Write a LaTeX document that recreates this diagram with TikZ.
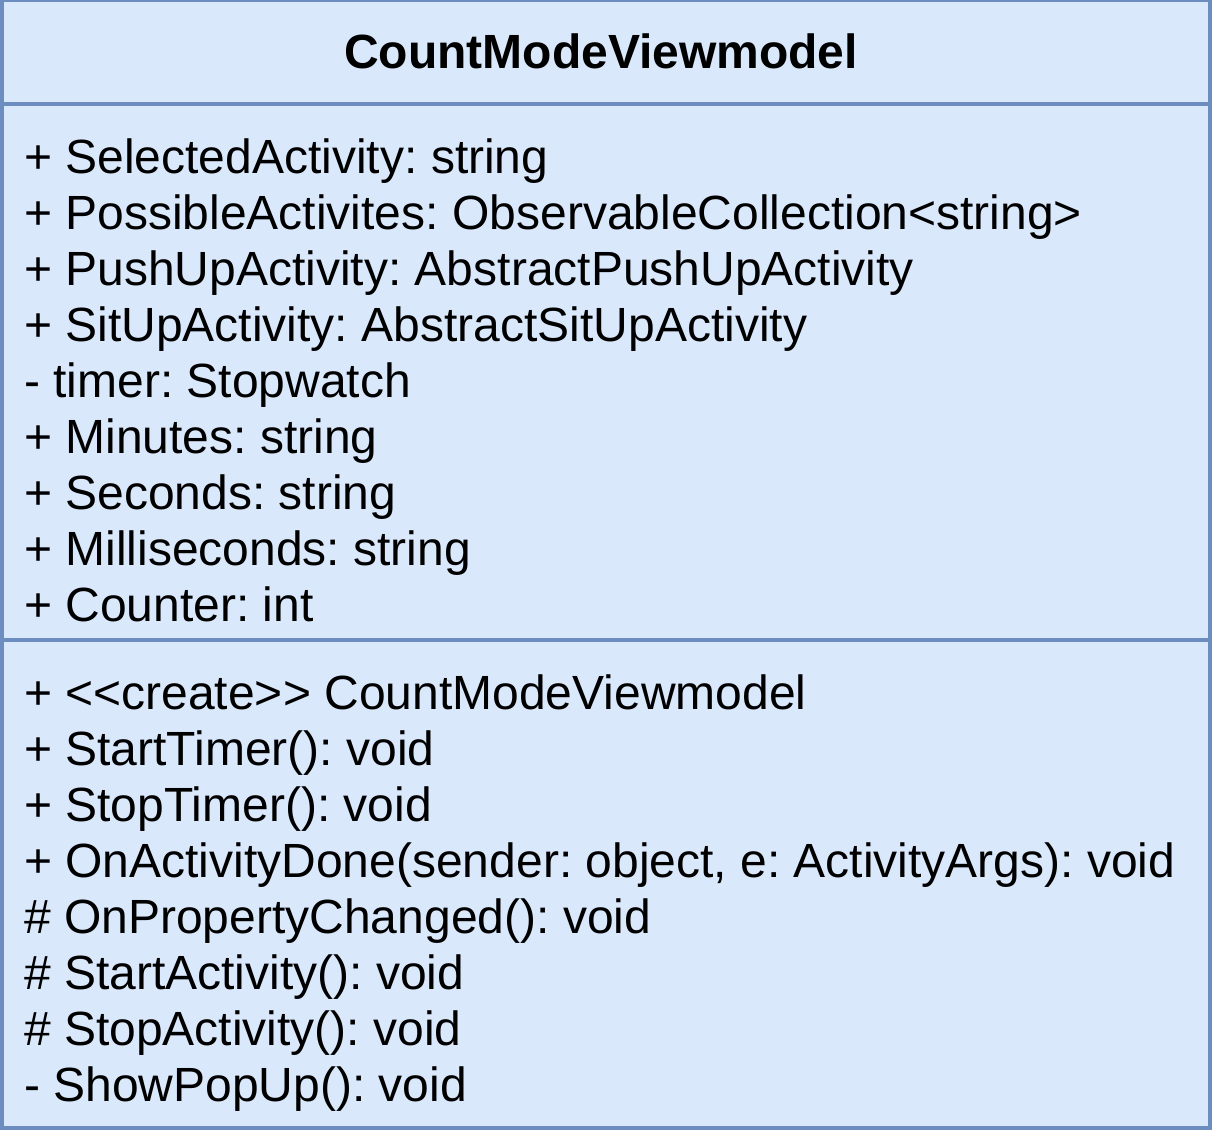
\documentclass[tikz,border=0pt]{standalone}
\usepackage{fontspec}
\setmainfont{Liberation Sans}
\definecolor{umlfill}{HTML}{DAE8FC}
\definecolor{umlline}{HTML}{6C8EBF}
\begin{document}
\frenchspacing
\begin{tikzpicture}[x=1pt,y=-1pt,
  umltext/.style={anchor=base west,inner sep=0pt,font=\fontsize{48}{56}\selectfont\frenchspacing},
  umltitle/.style={anchor=base,inner sep=0pt,font=\fontsize{48}{56}\selectfont\bfseries},
  umlbox/.style={draw=umlline,fill=umlfill,line width=4pt},
  umlsep/.style={draw=umlline,line width=4pt}]
\useasboundingbox (0,0) rectangle (1212,1136);
\path[umlbox] (2,0) rectangle (1210,1128);
\coordinate (d1l) at (2,104); \coordinate (d1r) at (1210,104);
\coordinate (d2l) at (2,640); \coordinate (d2r) at (1210,640);
\draw[umlsep] (d1l) -- (d1r);
\draw[umlsep] (d2l) -- (d2r);
\node[umltitle] (title) at (601,68.3) {CountModeViewmodel};
\node[umltext] (a1) at (24,173.3) {+ SelectedActivity: string};
\node[umltext] (a2) at (24,229.3) {+ PossibleActivites: ObservableCollection<string>};
\node[umltext] (a3) at (24,285.3) {+ PushUpActivity: AbstractPushUpActivity};
\node[umltext] (a4) at (24,341.3) {+ SitUpActivity: AbstractSitUpActivity};
\node[umltext] (a5) at (24,397.3) {- timer: Stopwatch};
\node[umltext] (a6) at (24,453.3) {+ Minutes: string};
\node[umltext] (a7) at (24,509.3) {+ Seconds: string};
\node[umltext] (a8) at (24,565.3) {+ Milliseconds: string};
\node[umltext] (a9) at (24,621.3) {+ Counter: int};
\node[umltext] (m1) at (24,709.7) {+ <{}<create>{}> CountModeViewmodel};
\node[umltext] (m2) at (24,765.7) {+ StartTimer(): void};
\node[umltext] (m3) at (24,821.7) {+ StopTimer(): void};
\node[umltext] (m4) at (24,877.7) {+ OnActivityDone(sender: object, e: ActivityArgs): void};
\node[umltext] (m5) at (24,933.7) {\# OnPropertyChanged(): void};
\node[umltext] (m6) at (24,989.7) {\# StartActivity(): void};
\node[umltext] (m7) at (24,1045.7) {\# StopActivity(): void};
\node[umltext] (m8) at (24,1101.7) {- ShowPopUp(): void};
\end{tikzpicture}
\end{document}
